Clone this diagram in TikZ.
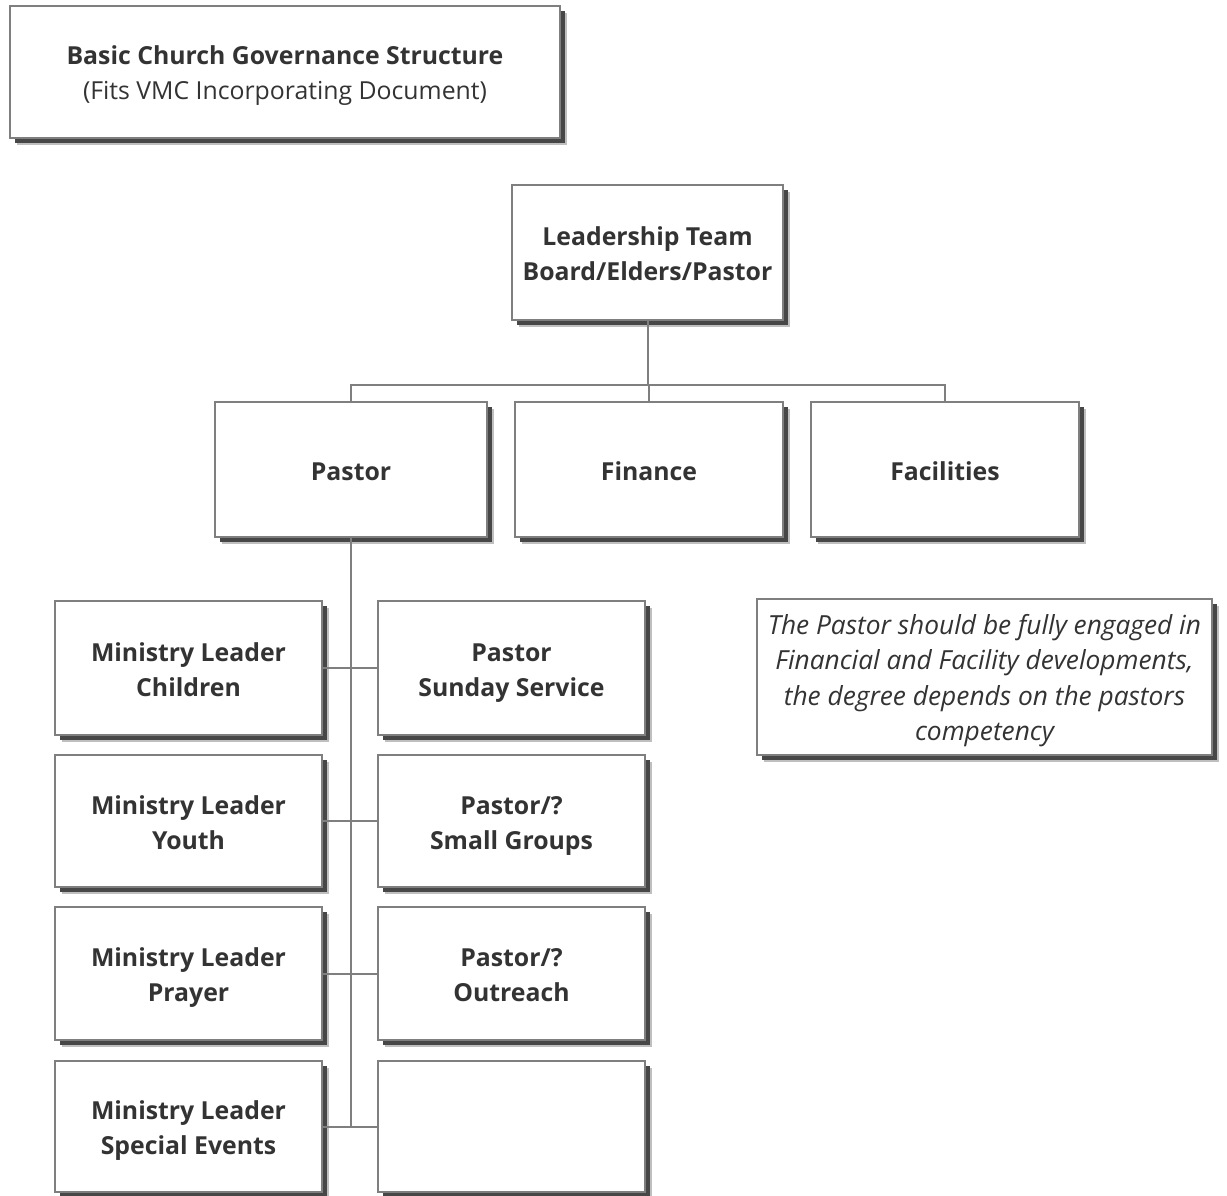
\documentclass[tikz,border=0pt]{standalone}
\usepackage{fontspec}
\setmainfont{Open Sans}
\usetikzlibrary{shadows}
\definecolor{txt}{HTML}{333333}
\definecolor{bord}{HTML}{7F7F7F}
\newcommand\boxtext[1]{\raisebox{-3.5pt}[\height][\depth]{\begin{tabular}{@{}c@{}}#1\end{tabular}}}
\tikzset{
  box/.style={draw=bord, line width=2pt, fill=white, text=txt,
    inner sep=0pt, font=\fontsize{24.8}{35}\selectfont\bfseries,
    drop shadow={shadow xshift=7pt, shadow yshift=-7pt, fill=black!25, opacity=1},
    drop shadow={shadow xshift=5pt, shadow yshift=-5pt, fill=black!72, opacity=1}},
  conn/.style={draw=bord, line width=2pt}
}
\begin{document}
\begin{tikzpicture}[x=1pt,y=-1pt]
\useasboundingbox (0,0) rectangle (1227,1196);
\node[box, minimum width=550pt, minimum height=132pt] (title) at (285,72)
  {\boxtext{Basic Church Governance Structure\\\mdseries (Fits VMC Incorporating Document)}};
\node[box, minimum width=271pt, minimum height=135pt] (lead) at (647.5,252.5)
  {\boxtext{Leadership Team\\Board/Elders/Pastor}};
\node[box, minimum width=272pt, minimum height=135pt] (pastor) at (351,469.5) {\boxtext{Pastor}};
\node[box, minimum width=268pt, minimum height=135pt] (fin) at (649,469.5) {\boxtext{Finance}};
\node[box, minimum width=268pt, minimum height=135pt] (fac) at (945,469.5) {\boxtext{Facilities}};
\node[box, minimum width=455pt, minimum height=156pt, font=\fontsize{26.3}{35.3}\selectfont\itshape] (note) at (984.5,677)
  {\boxtext{The Pastor should be fully engaged in\\Financial and Facility developments,\\the degree depends on the pastors\\competency}};
\node[box, minimum width=267pt, minimum height=134pt] (l1) at (188.5,668) {\boxtext{Ministry Leader\\Children}};
\node[box, minimum width=267pt, minimum height=134pt] (r1) at (511.5,668) {\boxtext{Pastor\\Sunday Service}};
\node[box, minimum width=267pt, minimum height=132pt] (l2) at (188.5,821) {\boxtext{Ministry Leader\\Youth}};
\node[box, minimum width=267pt, minimum height=132pt] (r2) at (511.5,821) {\boxtext{Pastor/?\\Small Groups}};
\node[box, minimum width=267pt, minimum height=133pt] (l3) at (188.5,973.5) {\boxtext{Ministry Leader\\Prayer}};
\node[box, minimum width=267pt, minimum height=133pt] (r3) at (511.5,973.5) {\boxtext{Pastor/?\\Outreach}};
\node[box, minimum width=267pt, minimum height=131pt] (l4) at (188.5,1126.5) {\boxtext{Ministry Leader\\Special Events}};
\node[box, minimum width=267pt, minimum height=131pt] (r4) at (511.5,1126.5) {};
\coordinate (bus) at (648,385);
\coordinate (spine) at (350,1127);
\draw[conn] (lead.south) -- (lead.south |- bus);
\draw[conn] (pastor.north) |- (bus) -| (fac.north);
\draw[conn] (fin.north) -- (fin.north |- bus);
\draw[conn] (pastor.south) -- (pastor.south |- spine);
\draw[conn] (l1.east) -- (r1.west);
\draw[conn] (l2.east) -- (r2.west);
\draw[conn] (l3.east) -- (r3.west);
\draw[conn] (l4.east) -- (r4.west);
\end{tikzpicture}
\end{document}
